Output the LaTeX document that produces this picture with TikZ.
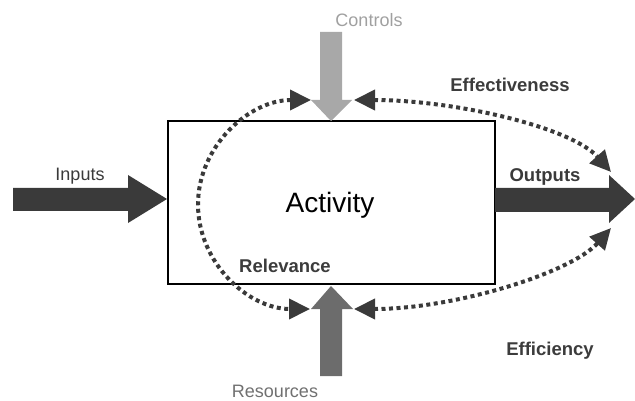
\documentclass[tikz,border=0pt]{standalone}
\usepackage{fontspec}
\setmainfont{Liberation Sans}
\usepackage{tikz}
\usetikzlibrary{calc}
\usetikzlibrary{arrows.meta}
\usetikzlibrary{positioning}

\definecolor{blockdark}{RGB}{58,58,58}
\definecolor{ctrlgray}{RGB}{168,168,168}
\definecolor{ctrltext}{RGB}{160,160,160}
\definecolor{resgray}{RGB}{108,108,108}
\definecolor{restext}{RGB}{112,112,112}
\definecolor{labeltext}{RGB}{60,60,60}

\tikzset{
  lbl/.style={anchor=base, inner sep=0pt, font=\fontsize{18}{20}\selectfont},
  boldlbl/.style={lbl, font=\fontsize{18.5}{20}\selectfont\bfseries, text=labeltext},
  dotarrow/.style={blockdark, line width=4pt, dash pattern=on 4pt off 3.5pt,
    {Triangle[length=21pt,width=20pt]}-{Triangle[length=21pt,width=20pt]}},
}

\begin{document}
\begin{tikzpicture}[x=1pt, y=-1pt, line join=miter]
  \useasboundingbox (0,0) rectangle (635,401);
  %--- Activity
    \draw[line width=1.2pt, fill=white] (168,121) rectangle (495,284);
    \node[lbl, font=\fontsize{28}{30}\selectfont] (activity) at (330,213) {Activity};
  %--- end points of the dotted loops
    \coordinate (ctrlL) at (311,100);
    \coordinate (ctrlR) at (354,100);
    \coordinate (resL) at (310,309);
    \coordinate (resR) at (354,309);
    \coordinate (outU) at (611,172);
    \coordinate (outD) at (611,228);
    \coordinate (relW) at (198,204.5);
  % Relevance
    \draw[dotarrow] (ctrlL) .. controls +(-62,0) and +(0,-58) .. (relW)
                            .. controls +(0,58) and +(-62,0) .. (resL);
    \node[boldlbl] (relevance) at (285,272) {Relevance};
  % Effectiveness
    \draw[dotarrow] (ctrlR) .. controls +(100,0) and +(-40,-45) .. (outU);
    \node[boldlbl] (effectiveness) at (510,92) {Effectiveness};
  % Efficiency
    \draw[dotarrow] (resR) .. controls +(100,0) and +(-40,45) .. (outD);
    \node[boldlbl] (efficiency) at (550,355) {Efficiency};
  %--- Inputs
    \fill[blockdark] (13,188) -- (128,188) -- (128,175) -- (167,199) -- (128,223) -- (128,211) -- (13,211) -- cycle;
    \node[lbl, text=blockdark] (inputs) at (80,181) {Inputs};
  %--- Outputs
    \fill[blockdark] (495,188) -- (609,188) -- (609,175) -- (635,199) -- (609,223) -- (609,212) -- (495,212) -- cycle;
    \node[boldlbl, text=blockdark] (outputs) at (545,182) {Outputs};
  %--- Controls
    \fill[ctrlgray] (320,32) -- (342,32) -- (342,100) -- (352,100) -- (331,121) -- (311,100) -- (320,100) -- cycle;
    \node[lbl, text=ctrltext] (controls) at (369,27) {Controls};
  %--- Resources
    \fill[resgray] (320,376) -- (342,376) -- (342,309) -- (353,309) -- (331,286) -- (311,309) -- (320,309) -- cycle;
    \node[lbl, text=restext] (resources) at (275,397.5) {Resources};
\end{tikzpicture}
\end{document}
